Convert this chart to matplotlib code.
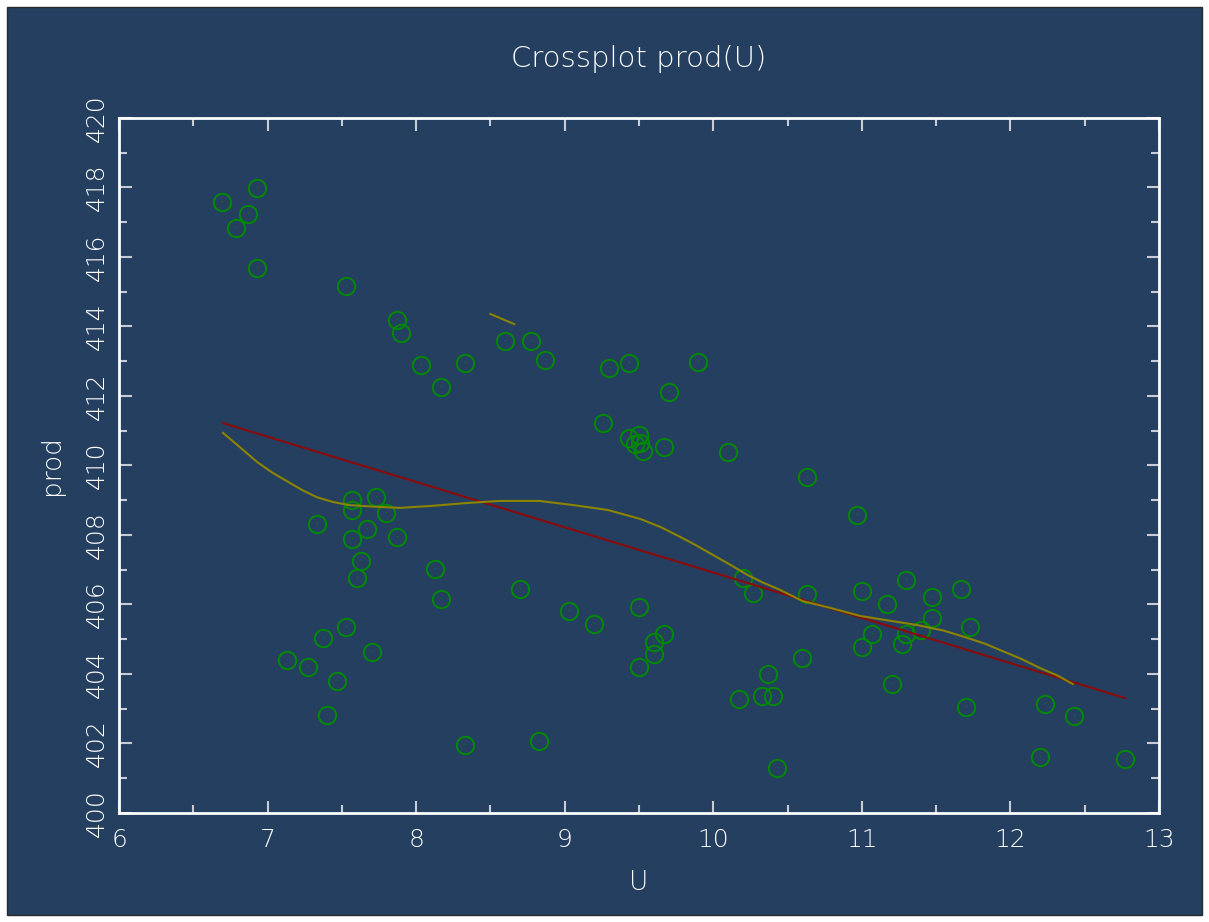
import matplotlib
matplotlib.use("Agg")
import matplotlib.pyplot as plt
from matplotlib.patches import Rectangle
from matplotlib.ticker import MultipleLocator

# datos
u_vals = [6.69, 6.93, 6.87, 6.79, 6.93, 7.53, 7.87, 7.90, 8.03, 8.17, 8.33, 8.60, 8.77, 8.87,
          9.30, 9.43, 9.70, 9.90, 9.26, 9.43, 9.50, 9.47, 9.51, 9.53, 9.67, 10.10, 10.63, 10.97,
          7.73, 7.57, 7.57, 7.33, 7.80, 7.67, 7.57, 7.87, 7.63, 7.60, 8.13, 8.17, 8.70, 9.03,
          9.20, 9.50, 9.67, 9.60, 9.60, 9.50, 7.53, 7.37, 7.13, 7.27, 7.47, 7.70, 7.40, 8.33,
          8.83, 10.20, 10.27, 10.63, 11.00, 11.30, 11.17, 11.47, 11.67, 11.47, 11.73, 11.07,
          11.30, 11.40, 11.27, 11.00, 10.60, 11.20, 11.70, 12.23, 12.43, 12.20, 12.77, 10.37,
          10.17, 10.33, 10.40, 10.43]
prod_vals = [417.58, 417.99, 417.24, 416.83, 415.68, 415.17, 414.19, 413.81, 412.89, 412.26,
             412.95, 413.58, 413.58, 413.04, 412.81, 412.95, 412.12, 412.98, 411.22, 410.79,
             410.88, 410.62, 410.65, 410.42, 410.53, 410.39, 409.67, 408.58,
             409.09, 409.01, 408.72, 408.32, 408.63, 408.17, 407.88, 407.94, 407.25, 406.76,
             407.02, 406.16, 406.45, 405.81, 405.44, 405.93, 405.15, 404.92, 404.58, 404.20,
             405.35, 405.03, 404.40, 404.20, 403.80, 404.63, 402.82, 401.96, 402.07,
             406.76, 406.33, 406.30, 406.39, 406.71, 406.01, 406.22, 406.45, 405.61, 405.35,
             405.15, 405.15, 405.27, 404.86, 404.78, 404.46, 403.71, 403.05, 403.14, 402.79,
             401.61, 401.55, 404.00, 403.28, 403.37, 403.37, 401.29]

# recta de regresion
fit_u = [6.70, 12.77]
fit_prod = [411.22, 403.31]

# curva suavizada
smooth_u = [6.70, 6.81, 6.93, 7.03, 7.13, 7.23, 7.33, 7.44, 7.55, 7.74, 7.89, 8.11, 8.34, 8.56,
            8.83, 9.06, 9.29, 9.51, 9.65, 9.78, 9.89, 10.00, 10.12, 10.23, 10.34, 10.45, 10.60,
            10.79, 10.99, 11.12, 11.37, 11.55, 11.71, 11.83, 11.93, 12.07, 12.20, 12.32, 12.42]
smooth_prod = [410.94, 410.54, 410.10, 409.80, 409.55, 409.30, 409.09, 408.95, 408.86, 408.81,
               408.78, 408.84, 408.92, 408.98, 408.98, 408.86, 408.72, 408.46, 408.22, 407.94,
               407.69, 407.42, 407.13, 406.85, 406.62, 406.42, 406.10, 405.90, 405.67, 405.58,
               405.41, 405.25, 405.04, 404.87, 404.69, 404.44, 404.17, 403.95, 403.71]

# segmento corto aislado
seg_u = [8.50, 8.66]
seg_prod = [414.36, 414.07]

fondo = '#253f61'
texto = '#ffffff'

plt.rcParams['font.family'] = ['DejaVu Sans']
plt.rcParams['font.weight'] = 'light'
plt.rcParams['axes.titleweight'] = 'light'
plt.rcParams['axes.labelweight'] = 'light'

fig = plt.figure(figsize=(12.09, 9.22), dpi=100, facecolor='white')
fig.patches.append(Rectangle((7 / 1209, 7 / 922), 1195 / 1209, 908 / 922,
                             transform=fig.transFigure, facecolor=fondo,
                             edgecolor='#2a2a2a', linewidth=1, zorder=-5))

ax = fig.add_axes([119 / 1209, 1 - 813 / 922, 1040 / 1209, 695 / 922])
ax.set_facecolor(fondo)

ax.plot(u_vals, prod_vals, 'o', markersize=12.5, markerfacecolor='none',
        markeredgecolor='#008a00', markeredgewidth=1.4, zorder=3)
ax.plot(u_vals, prod_vals, ',', color='#008a00', zorder=3)
ax.plot(fit_u, fit_prod, color='#8b0a0a', linewidth=1.5, zorder=4)
ax.plot(smooth_u, smooth_prod, color='#8c8400', linewidth=1.5, zorder=5)
ax.plot(seg_u, seg_prod, color='#8c8400', linewidth=1.5, zorder=5)

ax.set_xlim(6, 13)
ax.set_ylim(400, 420)
ax.xaxis.set_major_locator(MultipleLocator(1))
ax.xaxis.set_minor_locator(MultipleLocator(0.5))
ax.yaxis.set_major_locator(MultipleLocator(2))
ax.yaxis.set_minor_locator(MultipleLocator(1))

for s in ax.spines.values():
    s.set_color('white')
    s.set_linewidth(2)

ax.tick_params(which='both', direction='in', top=True, right=True, color='#c8ccd4',
               width=1.5, labelcolor=texto, labelsize=18)
ax.tick_params(which='major', length=9)
ax.tick_params(which='minor', length=6)
ax.tick_params(axis='x', pad=11)
ax.tick_params(axis='y', pad=7)
for lbl in ax.get_yticklabels():
    lbl.set_rotation(90)
    lbl.set_va('center')

ax.set_title('Crossplot prod(U)', color=texto, fontsize=21, pad=37)
ax.set_xlabel('U', color=texto, fontsize=19)
ax.set_ylabel('prod', color=texto, fontsize=19)
ax.xaxis.set_label_coords(0.5, -0.082)
ax.yaxis.set_label_coords(-0.053, 0.5)

plt.savefig('out.png', dpi=100, facecolor='white')
